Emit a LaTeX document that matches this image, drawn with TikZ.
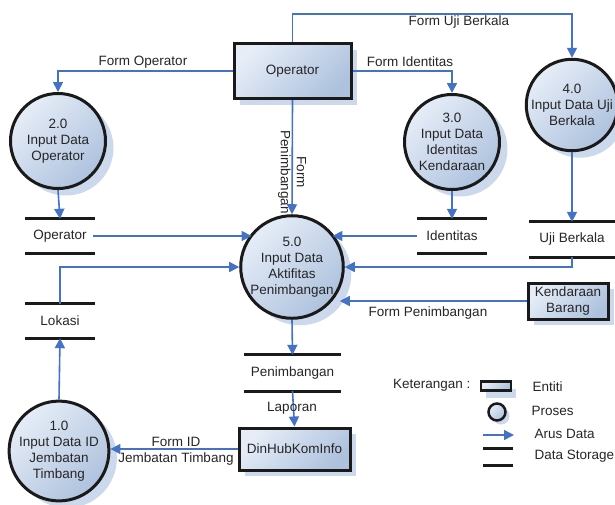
\documentclass[tikz,border=0pt]{standalone}
\usepackage{fontspec}
\setmainfont{Liberation Sans}
\usetikzlibrary{arrows.meta,shadows}

\definecolor{flowc}{HTML}{4472C4}
\definecolor{fillA}{HTML}{E6EDF7}
\definecolor{fillB}{HTML}{AEC2DE}
\definecolor{shadowc}{HTML}{CCD9ED}
\definecolor{inkc}{HTML}{1A1A1A}
\definecolor{textc}{HTML}{262626}

\begin{document}
\begin{tikzpicture}[x=1pt,y=-1pt,
  font=\fontsize{13.5}{16}\selectfont,
  text=textc,
  bodyfill/.style={top color=fillA, bottom color=fillB, shading angle=45},
  softshadow/.style 2 args={drop shadow={shadow xshift=#1, shadow yshift=#2,
      shade=false, fill=shadowc, opacity=1, draw=none}},
  entity/.style={rectangle, draw=inkc, line width=3pt, bodyfill, align=center, inner sep=2pt,
    softshadow={6pt}{-6pt}},
  proc/.style={circle, draw=inkc, line width=3pt, bodyfill, align=center, inner sep=0pt,
    minimum size=95pt, softshadow={8pt}{-7pt}},
  storeline/.style={draw=inkc, line width=3pt},
  datastore/.style={rectangle, inner sep=0pt, minimum height=34pt,
    append after command={(\tikzlastnode.north west) edge[storeline] (\tikzlastnode.north east)
      (\tikzlastnode.south west) edge[storeline] (\tikzlastnode.south east)}},
  flow/.style={draw=flowc, line width=1.6pt, -{Triangle[width=10pt,length=10pt]}},
  lbl/.style={inner sep=1pt, align=center}]

\useasboundingbox (0,0) rectangle (615,504);
\fill[white] (0,0) rectangle (615,504);

% entities
\node[entity, minimum width=117pt, minimum height=55pt] (op) at (292.5,71) {Operator};
\node[entity, minimum width=111pt, minimum height=42pt] (dh) at (294.5,449) {DinHubKomInfo};
\node[entity, minimum width=80pt, minimum height=36pt] (kb) at (568,301) {Kendaraan\\Barang};

% processes
\node[proc] (p2) at (58,141) {2.0\\Input Data\\Operator};
\node[proc] (p3) at (452,142) {3.0\\Input Data\\Identitas\\Kendaraan};
\node[proc, minimum size=91pt] (p4) at (572,105) {4.0\\Input Data Uji\\Berkala};
\node[proc] (p5) at (292,267) {5.0\\Input Data\\Aktifitas\\Penimbangan};
\node[proc, minimum size=98pt] (p1) at (59,451) {1.0\\Input Data ID\\Jembatan\\Timbang};

% data stores
\node[datastore, minimum width=70pt] (sOp) at (60,236) {Operator};
\node[datastore, minimum width=70pt] (sId) at (452,236) {Identitas};
\node[datastore, minimum width=86pt, minimum height=35pt] (sUji) at (572,239.5) {Uji Berkala};
\node[datastore, minimum width=70pt] (sLok) at (60,321) {Lokasi};
\node[datastore, minimum width=97pt, minimum height=36pt] (sPen) at (292.5,373) {Penimbangan};

% data flows
\draw[flow] (op.north) -- (op.north |- 0,14) -| (p4.north);
\draw[flow] (op.west) -| (p2.north);
\draw[flow] (op.east) -| (p3.north);
\draw[flow] (op.south) -- (p5.north);
\draw[flow] (p2.south) -- (sOp.north);
\draw[flow] (p3.south) -- (sId.north);
\draw[flow] (p4.south) -- (sUji.north);
\draw[flow] ([xshift=-2pt]sOp.east) -- (sOp.east -| p5.140);
\draw[flow] (sId.west) -- (sId.west -| p5.40);
\draw[flow] (sUji.south) |- (p5.east);
\draw[flow] (kb.west) -- ([xshift=-5pt]kb.west -| p5.east);
\draw[flow] (sLok.north) |- (p5.west);
\draw[flow] (p1.north) -- (sLok.south);
\draw[flow] (dh.west) -- (dh.west -| p1.east);
\draw[flow] (p5.south) -- (sPen.north);
\draw[flow] (sPen.south) -- (dh.north);

% flow labels
\node[lbl] (lUji) at (459,22) {Form Uji Berkala};
\node[lbl] (lOp) at (143,62) {Form Operator};
\node[lbl] (lId) at (410,62) {Form Identitas};
\node[lbl, rotate=-90] (lPen) at (292,172) {Form\\Penimbangan};
\node[lbl] (lKb) at (428,313) {Form Penimbangan};
\node[lbl] (lLap) at (292,408) {Laporan};
\node[lbl] (lFid) at (176,451) {Form ID\\Jembatan Timbang};

% legend
\node[anchor=east] (kt) at (474,385) {Keterangan :};
\node[rectangle, draw=inkc, bodyfill, minimum width=30pt, minimum height=9pt, inner sep=0pt,
  line width=2.5pt, softshadow={5pt}{-7pt}] (lgE) at (496,386) {};
\node[anchor=west] (lgEt) at (529,387) {Entiti};
\node[circle, draw=inkc, bodyfill, minimum size=17pt, inner sep=0pt, line width=2.5pt,
  softshadow={4pt}{-4pt}] (lgP) at (497,412) {};
\node[anchor=west] (lgPt) at (528,411) {Proses};
\coordinate (lgA1) at (483,435);
\coordinate (lgA2) at (514,435);
\draw[flow] (lgA1) -- (lgA2);
\node[anchor=west] (lgAt) at (531,434) {Arus Data};
\node[datastore, minimum width=30pt, minimum height=16pt] (lgS) at (498,457) {};
\node[anchor=west] (lgSt) at (531,456) {Data Storage};
\end{tikzpicture}
\end{document}
